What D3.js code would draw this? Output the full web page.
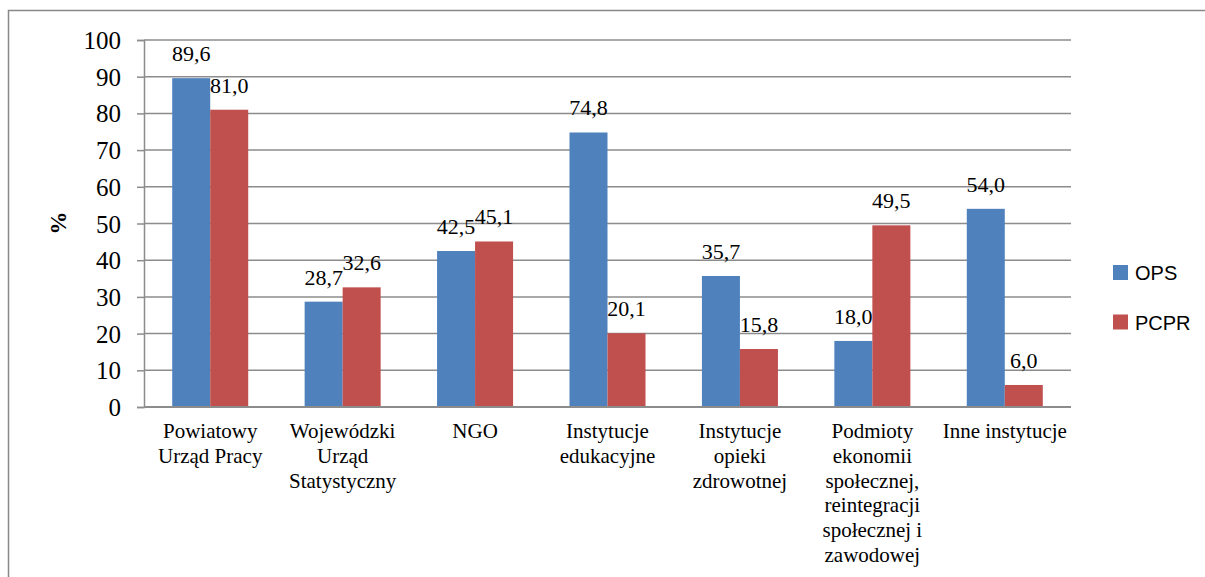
<!DOCTYPE html>
<html><head><meta charset="utf-8">
<script src="https://cdn.jsdelivr.net/npm/d3@7"></script>
</head><body style="margin:0;background:#fff">
<svg id="chart" width="1205" height="577" style="display:block"></svg>
<script>
const categories = [
  ["Powiatowy", "Urząd Pracy"],
  ["Wojewódzki", "Urząd", "Statystyczny"],
  ["NGO"],
  ["Instytucje", "edukacyjne"],
  ["Instytucje", "opieki", "zdrowotnej"],
  ["Podmioty", "ekonomii", "społecznej,", "reintegracji", "społecznej i", "zawodowej"],
  ["Inne instytucje"]
];
const seriesNames = ["OPS", "PCPR"];
const opsValues = [89.6, 28.7, 42.5, 74.8, 35.7, 18.0, 54.0];
const pcprValues = [81.0, 32.6, 45.1, 20.1, 15.8, 49.5, 6.0];
const yTicks = [0, 10, 20, 30, 40, 50, 60, 70, 80, 90, 100];
const colors = ["#4F81BD", "#C0504D"];

(function () {
const SERIF = '"Liberation Serif"';
const SANS = '"Liberation Sans"';
const svg = d3.select("#chart");
const pLeft = 144, pRight = 1071, pTop = 40, pBottom = 407;

// frame
svg.append("path").attr("d", "M8.5,600 V10.5 H1210")
  .attr("fill", "none").attr("stroke", "#888").attr("stroke-width", 1.5);

const x0 = d3.scaleBand().domain(d3.range(categories.length)).range([pLeft, pRight])
  .paddingInner(0.426).paddingOuter(0.213);
const x1 = d3.scaleBand().domain(seriesNames).range([0, x0.bandwidth()]);
const y = d3.scaleLinear().domain([0, 100]).range([pBottom, pTop]);

// grid
svg.append("g").selectAll("line").data(yTicks.filter(d => d > 0)).join("line")
  .attr("x1", pLeft).attr("x2", pRight).attr("y1", d => y(d)).attr("y2", d => y(d))
  .attr("stroke", "#8c8c8c").attr("stroke-width", 1.5);

// y axis
const yAxis = d3.axisLeft(y).tickValues(yTicks).tickSize(7).tickPadding(16);
const yg = svg.append("g").attr("transform", `translate(${pLeft},0)`).call(yAxis);
yg.select(".domain").attr("stroke", "#8c8c8c").attr("stroke-width", 1.5);
yg.selectAll(".tick line").attr("stroke", "#8c8c8c").attr("stroke-width", 1.5);
yg.selectAll(".tick text").style("font-family", SERIF).style("font-size", "25px").attr("fill", "#000").attr("dy", "0.34em");

// bars
const series = [opsValues, pcprValues];
series.forEach((vals, si) => {
  const g = svg.append("g");
  g.selectAll("rect").data(vals).join("rect")
    .attr("x", (d, i) => x0(i) + x1(seriesNames[si]))
    .attr("width", x1.bandwidth())
    .attr("y", d => y(d))
    .attr("height", d => y(0) - y(d))
    .attr("fill", colors[si]);
  g.selectAll("text").data(vals).join("text")
    .style("font-family", SERIF).style("font-size", "22px")
    .attr("x", (d, i) => x0(i) + x1(seriesNames[si]) + x1.bandwidth() / 2)
    .attr("y", d => y(d) - 17)
    .attr("text-anchor", "middle")
    .attr("fill", "#000")
    .text(d => d3.format(".1f")(d).replace(".", ","));
});

// x axis line
svg.append("line").attr("x1", pLeft).attr("x2", pRight).attr("y1", pBottom).attr("y2", pBottom)
  .attr("stroke", "#8c8c8c").attr("stroke-width", 2);

// category labels
const cl = svg.append("g");
categories.forEach((lines, i) => {
  const t = cl.append("text").style("font-family", SERIF).style("font-size", "21px")
    .attr("text-anchor", "middle").attr("fill", "#000");
  lines.forEach((ln, j) => {
    t.append("tspan").attr("x", x0(i) + x0.bandwidth() / 2).attr("y", 438 + j * 24.8).text(ln);
  });
});

// y title
svg.append("text").style("font-family", SERIF).style("font-weight", "bold").style("font-size", "23px")
  .attr("transform", "translate(66,223) rotate(-90)")
  .attr("text-anchor", "middle").text("%");

// legend
const lg = svg.append("g");
seriesNames.forEach((n, i) => {
  lg.append("rect").attr("x", 1113).attr("y", 265 + i * 49.5).attr("width", 15).attr("height", 15).attr("fill", colors[i]);
  lg.append("text").style("font-family", SANS).style("font-size", "20px")
    .attr("x", 1135).attr("y", 280 + i * 49.5).attr("fill", "#000").text(n);
});
})();
</script>
</body></html>
